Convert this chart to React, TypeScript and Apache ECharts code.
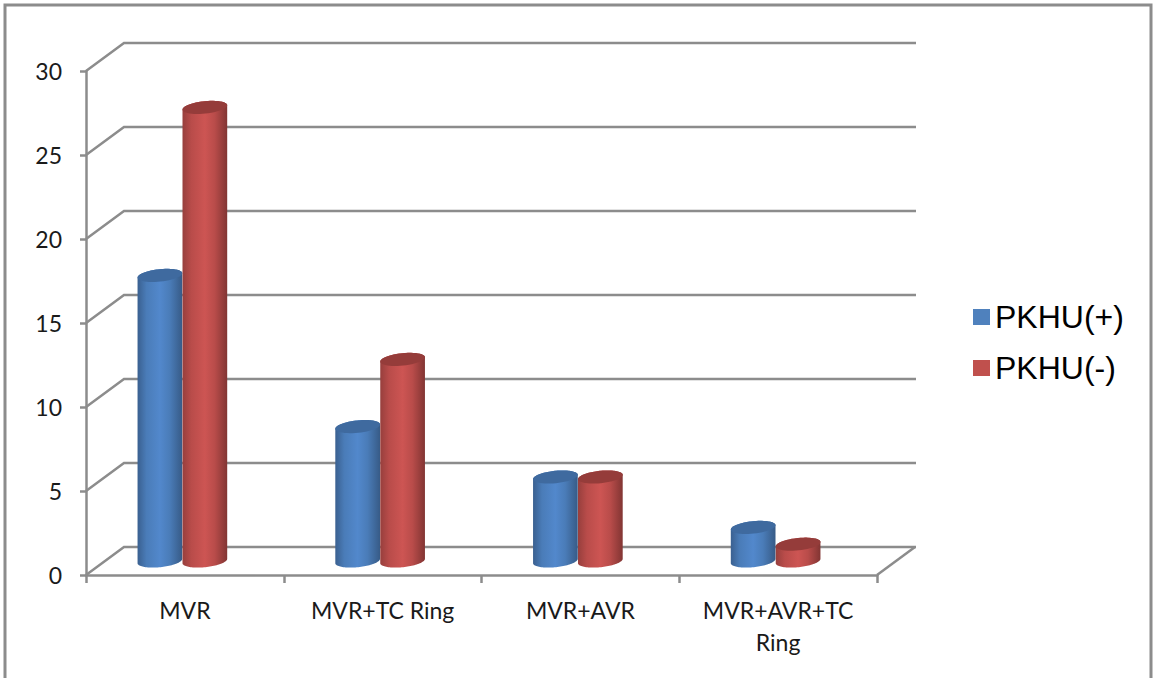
import React, { useEffect, useRef } from "react";
import * as echarts from "echarts";

const categories = ["MVR", "MVR+TC Ring", "MVR+AVR", "MVR+AVR+TC\nRing"];
const positiveValues = [17, 8, 5, 2];
const negativeValues = [27, 12, 5, 1];
const valueTicks = [0, 5, 10, 15, 20, 25, 30];
const seriesNames = ["PKHU(+)", "PKHU(-)"];

const GRID_COLOR = "#8c8c8c";
const DEPTH_X = 38;
const DEPTH_Y = -28;
const BAR_RATIO = 0.2273;
const CLUSTER_SHIFT = -2.5;
const MID_DEPTH_Y = -14;
const ELLIPSE_RATIO = 0.275;
const TILT = (-6 * Math.PI) / 180;

type Palette = { legend: string; top: string; edgeL: string; inner: string; mid: string; edgeR: string };

const BLUE: Palette = { legend: "#4f81bd", top: "#3f6a9f", edgeL: "#3a6090", inner: "#4a7cb8", mid: "#5288cc", edgeR: "#375b87" };
const RED: Palette = { legend: "#c0504d", top: "#953c3a", edgeL: "#973f3d", inner: "#b94c4a", mid: "#cd5553", edgeR: "#823533" };

// Point on a slightly tilted ellipse, which gives the cylinder caps their oblique look.
function ellipsePoint(cx: number, cy: number, a: number, b: number, t: number): number[] {
  const px = a * Math.cos(t);
  const py = b * Math.sin(t);
  return [cx + px * Math.cos(TILT) - py * Math.sin(TILT), cy + px * Math.sin(TILT) + py * Math.cos(TILT)];
}

function ellipseArc(cx: number, cy: number, a: number, b: number, from: number, to: number): number[][] {
  const steps = 48;
  const pts: number[][] = [];
  for (let i = 0; i <= steps; i++) {
    pts.push(ellipsePoint(cx, cy, a, b, from + ((to - from) * i) / steps));
  }
  return pts;
}

function cylinder(side: -1 | 1, palette: Palette) {
  return (params: any, api: any) => {
    const index = api.value(0);
    const top = api.coord([index, api.value(1)]);
    const base = api.coord([index, 0]);
    const band = api.size([1, 0])[0];
    const a = (band * BAR_RATIO) / 2;
    const b = a * ELLIPSE_RATIO;
    const cx = top[0] + CLUSTER_SHIFT + side * a;
    const topY = top[1] + MID_DEPTH_Y;
    const baseY = base[1] + MID_DEPTH_Y;
    // Body outline: the upper cap's back half, then the lower cap's front half.
    const body = [
      ...ellipseArc(cx, topY, a, b, Math.PI, 2 * Math.PI),
      ...ellipseArc(cx, baseY, a, b, 0, Math.PI),
    ];
    return {
      type: "group",
      children: [
        {
          type: "polygon",
          shape: { points: body },
          style: {
            fill: {
              type: "linear",
              x: 0,
              y: 0,
              x2: 1,
              y2: 0,
              colorStops: [
                { offset: 0, color: palette.edgeL },
                { offset: 0.2, color: palette.inner },
                { offset: 0.5, color: palette.mid },
                { offset: 0.72, color: palette.inner },
                { offset: 1, color: palette.edgeR },
              ],
            },
          },
        },
        {
          type: "polygon",
          shape: { points: ellipseArc(cx, topY, a, b, 0, 2 * Math.PI) },
          style: { fill: palette.top },
        },
      ],
    };
  };
}

// Back wall gridline for one tick: the diagonal from the front plane, then the run along the wall.
function wallLine(params: any, api: any) {
  const tick = api.value(1);
  const y = api.coord([0, tick])[1];
  const rect = params.coordSys;
  const left = rect.x;
  const right = rect.x + rect.width;
  const children: any[] = [
    {
      type: "polyline",
      shape: {
        points: [
          [left, y],
          [left + DEPTH_X, y + DEPTH_Y],
          [right + DEPTH_X + 1, y + DEPTH_Y],
        ],
      },
      style: { stroke: GRID_COLOR, lineWidth: 2.5, fill: "none" },
    },
  ];
  if (tick === 0) {
    children.push({
      type: "line",
      shape: { x1: right, y1: y, x2: right + DEPTH_X, y2: y + DEPTH_Y },
      style: { stroke: GRID_COLOR, lineWidth: 2.5 },
    });
  }
  return { type: "group", children };
}

export default function App() {
  const ref = useRef<HTMLDivElement>(null);

  useEffect(() => {
    const chart = echarts.init(ref.current!, undefined, { renderer: "svg" });
    chart.setOption({
      animation: false,
      backgroundColor: "#ffffff",
      grid: { left: 86, top: 71, width: 791, height: 504, containLabel: false },
      graphic: [
        {
          type: "rect",
          silent: true,
          z: -10,
          shape: { x: 5, y: 5, width: 1146, height: 700 },
          style: { fill: "none", stroke: GRID_COLOR, lineWidth: 3 },
        },
      ],
      legend: {
        orient: "vertical",
        left: 968,
        top: 296,
        itemWidth: 17,
        itemHeight: 16,
        itemGap: 19,
        data: [
          { name: seriesNames[0], icon: "rect", itemStyle: { color: BLUE.legend } },
          { name: seriesNames[1], icon: "rect", itemStyle: { color: RED.legend } },
        ],
        textStyle: { fontFamily: "Liberation Sans", fontSize: 32, color: "#000000", padding: [2, 0, 0, 0] },
      },
      xAxis: {
        type: "category",
        data: categories,
        axisLine: { lineStyle: { color: GRID_COLOR, width: 2.5 } },
        axisTick: { show: true, alignWithLabel: false, length: 8, lineStyle: { color: GRID_COLOR, width: 2.5 } },
        axisLabel: { fontFamily: "Lato", fontSize: 23, color: "#1a1a1a", margin: 19, lineHeight: 32, interval: 0 },
      },
      yAxis: {
        type: "value",
        min: 0,
        max: 30,
        interval: 5,
        splitLine: { show: false },
        axisLine: { show: true, lineStyle: { color: GRID_COLOR, width: 2.5 } },
        axisTick: { show: true, length: 6, lineStyle: { color: GRID_COLOR, width: 2.5 } },
        axisLabel: { fontFamily: "Lato", fontSize: 23, color: "#1a1a1a", margin: 24 },
      },
      series: [
        {
          type: "custom",
          name: "wall",
          silent: true,
          z: 1,
          clip: false,
          encode: { x: 0, y: 1 },
          data: valueTicks.map((t) => [0, t]),
          renderItem: wallLine,
        },
        {
          type: "custom",
          name: seriesNames[0],
          z: 3,
          clip: false,
          encode: { x: 0, y: 1 },
          itemStyle: { color: BLUE.legend },
          data: positiveValues.map((v, i) => [i, v]),
          renderItem: cylinder(-1, BLUE),
        },
        {
          type: "custom",
          name: seriesNames[1],
          z: 4,
          clip: false,
          encode: { x: 0, y: 1 },
          itemStyle: { color: RED.legend },
          data: negativeValues.map((v, i) => [i, v]),
          renderItem: cylinder(1, RED),
        },
      ],
    });
    return () => chart.dispose();
  }, []);

  return <div ref={ref} style={{ position: "fixed", left: 0, top: 0, width: 1153, height: 678 }} />;
}
